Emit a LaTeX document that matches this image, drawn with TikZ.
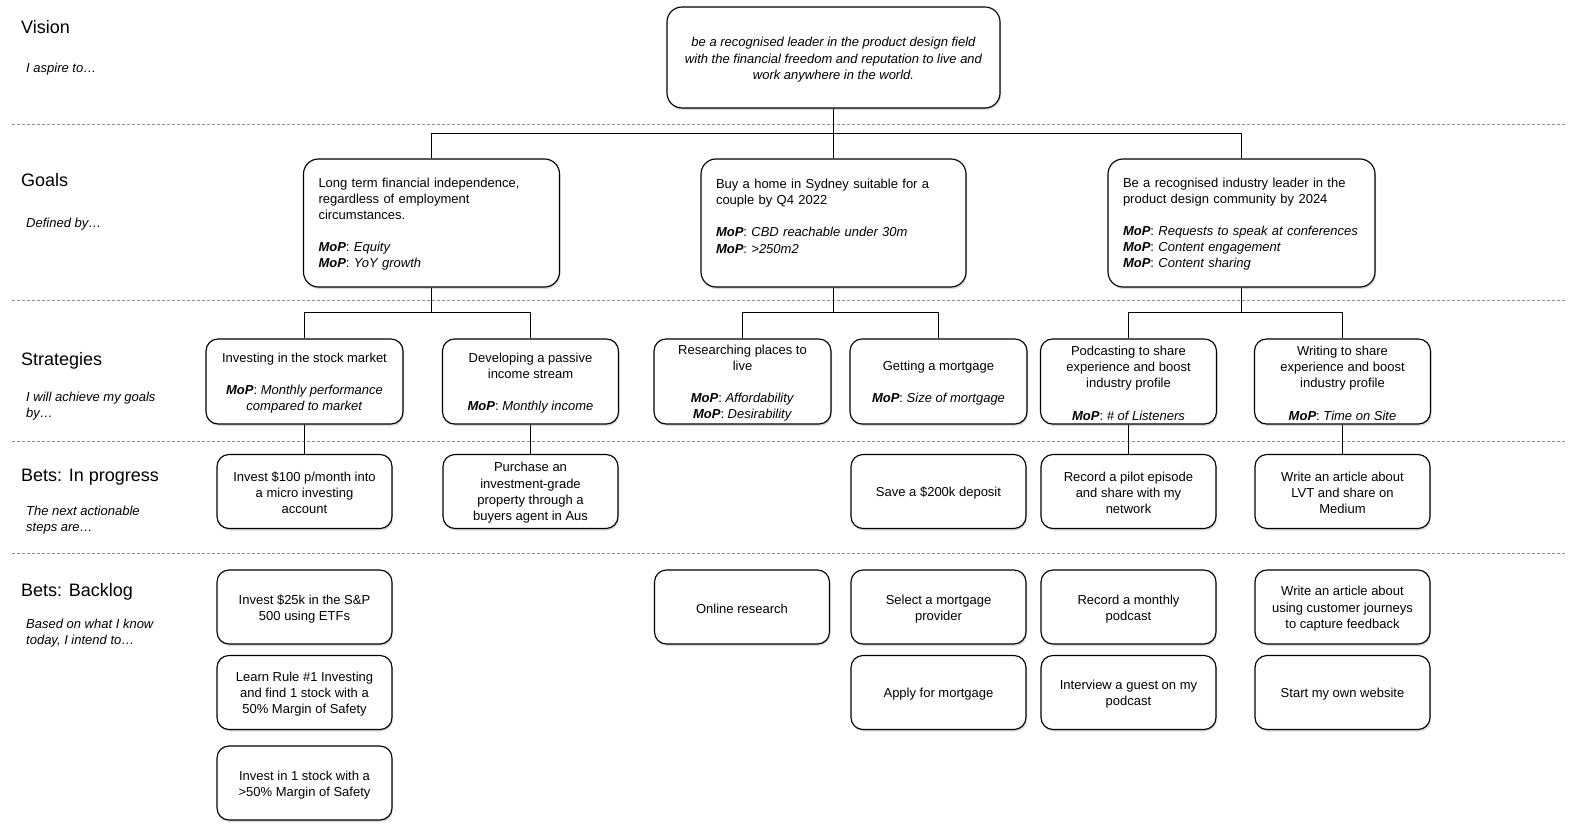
\documentclass[tikz,border=0pt]{standalone}
\usepackage{fontspec}
\setmainfont{Liberation Sans}
\usetikzlibrary{shadows}
\newcommand{\mopl}{\textbf{\textit{MoP}}}
\newcommand{\tsa}{\rule{0pt}{12.8pt}}
\newcommand{\tsv}{\rule{0pt}{13.8pt}}
\newcommand{\tsg}{\rule{0pt}{11.8pt}}
\begin{document}
\begin{tikzpicture}[x=1pt,y=-1pt,
 base/.style={draw=black, line width=1.15pt, fill=white, inner sep=0pt,
   font=\fontsize{13}{16.1}\selectfont,
   drop shadow={shadow xshift=1pt, shadow yshift=-2pt, opacity=0.3}},
 visionbox/.style={base, rounded corners=15pt, align=center, minimum width=333pt, minimum height=101pt,
   font=\fontsize{13}{16.1}\selectfont\itshape},
 goalbox/.style={base, rounded corners=15pt, align=left, inner xsep=15pt, minimum height=128pt},
 stratbox/.style={base, rounded corners=12pt, align=center, minimum height=85pt},
 betbox/.style={base, rounded corners=12pt, align=center, minimum height=74pt, minimum width=175pt},
 conn/.style={line width=1.2pt, black},
 sepline/.style={black!45, line width=0.8pt, dash pattern=on 3pt off 2pt},
 head/.style={anchor=west, inner sep=0pt, font=\fontsize{18}{22}\selectfont},
 sub/.style={anchor=west, inner sep=0pt, align=left, font=\fontsize{13}{16.1}\selectfont\itshape}
]
\useasboundingbox (0,0) rectangle (1580,834);

% separators
\draw[sepline] (12,124.5) -- (1567,124.5);
\draw[sepline] (12,300.5) -- (1567,300.5);
\draw[sepline] (12,441.5) -- (1567,441.5);
\draw[sepline] (12,553.5) -- (1567,553.5);

% left labels
\node[head] (hv) at (21,27) {Vision};
\node[sub] (sv) at (26,69.4) {I aspire to…};
\node[head] (hg) at (21,180) {Goals};
\node[sub] (sg) at (26,224.4) {Defined by…};
\node[head] (hs) at (21,361) {Strategies};
\node[sub] (ss) at (26,406.3) {I will achieve my goals\\by…};
\node[head] (hb) at (21,477) {Bets: In progress};
\node[sub] (sb) at (26,520) {The next actionable\\steps are…};
\node[head] (hk) at (21,592) {Bets: Backlog};
\node[sub] (sk) at (26,633) {Based on what I know\\today, I intend to…};

% vision
\node[visionbox] (vis) at (833.5,57.5) {\tsv be a recognised leader in the product design field\\with the financial freedom and reputation to live and\\work anywhere in the world.};

% goals
\node[goalbox, text width=226pt] (g1) at (431.5,223) {\tsg Long term financial independence,\\regardless of employment\\circumstances.\\[16.1pt]\mopl: \textit{Equity}\\\mopl: \textit{YoY growth}};
\node[goalbox, text width=235pt] (g2) at (833.5,223) {\tsg Buy a home in Sydney suitable for a\\couple by Q4 2022\\[16.1pt]\mopl: \textit{CBD reachable under 30m}\\\mopl: \textit{>250m2}\\\mbox{}};
\node[goalbox, text width=237pt] (g3) at (1241.5,223) {\tsg Be a recognised industry leader in the\\product design community by 2024\\[16.1pt]\mopl: \textit{Requests to speak at conferences}\\\mopl: \textit{Content engagement}\\\mopl: \textit{Content sharing}};

% strategies
\node[stratbox, minimum width=197pt] (s1) at (304.5,381.5) {\tsa Investing in the stock market\\[16.1pt]\mopl: \textit{Monthly performance}\\\textit{compared to market}};
\node[stratbox, minimum width=176pt] (s2) at (530.5,381.5) {\tsa Developing a passive\\income stream\\[16.1pt]\mopl: \textit{Monthly income}};
\node[stratbox, minimum width=177pt] (s3) at (742.5,381.5) {\tsa Researching places to\\live\\[16.1pt]\mopl: \textit{Affordability}\\\mopl: \textit{Desirability}};
\node[stratbox, minimum width=177pt] (s4) at (938.5,381.5) {\tsa Getting a mortgage\\[16.1pt]\mopl: \textit{Size of mortgage}};
\node[stratbox, minimum width=176pt] (s5) at (1128.5,381.5) {\tsa Podcasting to share\\experience and boost\\industry profile\\[16.1pt]\mopl: \textit{\# of Listeners}};
\node[stratbox, minimum width=176pt] (s6) at (1342.5,381.5) {\tsa Writing to share\\experience and boost\\industry profile\\[16.1pt]\mopl: \textit{Time on Site}};

% bets in progress
\node[betbox] (b1) at (304.5,491.5) {\tsg Invest \$100 p/month into\\a micro investing\\account};
\node[betbox] (b2) at (530.5,491.5) {\tsg Purchase an\\investment-grade\\property through a\\buyers agent in Aus};
\node[betbox] (b4) at (938.5,491.5) {\tsa Save a \$200k deposit};
\node[betbox] (b5) at (1128.5,491.5) {\tsg Record a pilot episode\\and share with my\\network};
\node[betbox] (b6) at (1342.5,491.5) {\tsg Write an article about\\LVT and share on\\Medium};

% backlog
\node[betbox] (k11) at (304.5,607) {\tsa Invest \$25k in the S\&P\\500 using ETFs};
\node[betbox] (k12) at (304.5,692.5) {\tsa Learn Rule \#1 Investing\\and find 1 stock with a\\50\% Margin of Safety};
\node[betbox] (k13) at (304.5,783) {\tsa Invest in 1 stock with a\\>50\% Margin of Safety};
\node[betbox] (k31) at (742,607) {\tsa Online research};
\node[betbox] (k41) at (938.5,607) {\tsa Select a mortgage\\provider};
\node[betbox] (k42) at (938.5,692.5) {\tsa Apply for mortgage};
\node[betbox] (k51) at (1128.5,607) {\tsa Record a monthly\\podcast};
\node[betbox] (k52) at (1128.5,692.5) {\tsa Interview a guest on my\\podcast};
\node[betbox] (k61) at (1342.5,607) {\tsa Write an article about\\using customer journeys\\to capture feedback};
\node[betbox] (k62) at (1342.5,692.5) {\tsa Start my own website};

% connectors
\coordinate (vj) at (833.5,133.5);
\draw[conn] (vis.south) -- (vj);
\draw[conn] (g1.north) |- (vj) -| (g3.north);
\draw[conn] (vj) -- (g2.north);

\coordinate (g1j) at (431.5,312.5);
\coordinate (g2j) at (833.5,312.5);
\coordinate (g3j) at (1241.5,312.5);
\draw[conn] (g1.south) -- (g1j);
\draw[conn] (s1.north) |- (g1j) -| (s2.north);
\draw[conn] (g2.south) -- (g2j);
\draw[conn] (s3.north) |- (g2j) -| (s4.north);
\draw[conn] (g3.south) -- (g3j);
\draw[conn] (s5.north) |- (g3j) -| (s6.north);

\draw[conn] (s1.south) -- (b1.north);
\draw[conn] (s2.south) -- (b2.north);
\draw[conn] (s5.south) -- (b5.north);
\draw[conn] (s6.south) -- (b6.north);
\end{tikzpicture}
\end{document}
